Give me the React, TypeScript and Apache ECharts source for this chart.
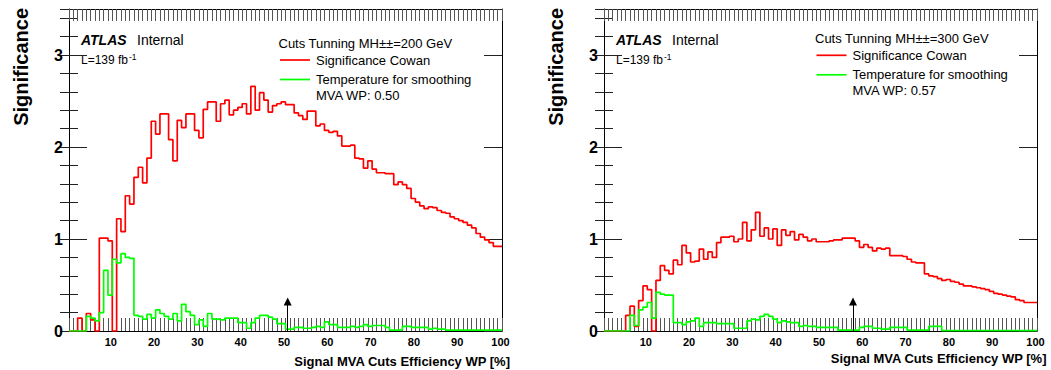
import React, { useEffect, useRef } from "react";
import * as echarts from "echarts";

// Bin contents, bins [k, k+1] for k = 0..99 (Signal MVA Cuts Efficiency WP [%])
const LEFT_RED = [
  0, 0, 0.14, 0, 0.19, 0.12, 0, 1.01, 1.01, 0.98,
  0, 1.22, 1.08, 1.47, 1.38, 1.67, 1.78, 1.61, 1.88, 2.28,
  2.14, 2.36, 2.36, 2.08, 1.85, 2.29, 2.21, 2.36, 2.36, 2.18,
  2.1, 2.41, 2.49, 2.49, 2.28, 2.47, 2.51, 2.35, 2.4, 2.43,
  2.47, 2.36, 2.66, 2.4, 2.59, 2.51, 2.38, 2.45, 2.47, 2.49,
  2.46, 2.46, 2.37, 2.34, 2.3, 2.39, 2.39, 2.23, 2.25, 2.18,
  2.16, 2.17, 2.12, 2.01, 2.01, 2.02, 1.88, 1.87, 1.77, 1.85,
  1.76, 1.72, 1.72, 1.71, 1.71, 1.59, 1.62, 1.59, 1.55, 1.44,
  1.4, 1.36, 1.33, 1.35, 1.34, 1.31, 1.29, 1.28, 1.24, 1.22,
  1.2, 1.18, 1.15, 1.12, 1.06, 1.02, 0.99, 0.96, 0.92, 0.92,
];
const LEFT_GREEN = [
  0, 0, 0, 0, 0.16, 0.14, 0.11, 0.2, 0.66, 0.39,
  0.78, 0.74, 0.84, 0.8, 0.79, 0.17, 0.16, 0.13, 0.18, 0.14,
  0.23, 0.19, 0.16, 0.13, 0.19, 0.11, 0.29, 0.21, 0.17, 0.07,
  0.12, 0.05, 0.19, 0.13, 0.13, 0.12, 0.14, 0.14, 0.14, 0.09,
  0.09, 0.03, 0.09, 0.14, 0.17, 0.17, 0.15, 0.13, 0.08, 0.08,
  0.02, 0.02, 0.04, 0.04, 0.03, 0.03, 0.04, 0.05, 0.04, 0.1,
  0.07, 0.07, 0.04, 0.04, 0.04, 0.05, 0.04, 0.05, 0.07, 0.05,
  0.06, 0.06, 0.06, 0.04, 0.01, 0.01, 0.01, 0.05, 0.05, 0.04,
  0.04, 0.04, 0.04, 0.02, 0.03, 0.02, 0.02, 0.01, 0.01, 0.01,
  0.01, 0.01, 0.01, 0.01, 0.01, 0.01, 0.01, 0.01, 0.01, 0.01,
];
const RIGHT_RED = [
  0, 0, 0, 0, 0, 0.17, 0.27, 0.05, 0.33, 0.49,
  0.45, 0, 0.55, 0.71, 0.66, 0.62, 0.77, 0.72, 0.93, 0.85,
  0.75, 0.76, 0.89, 0.78, 0.86, 0.8, 0.96, 1.02, 1.02, 1.03,
  0.97, 1.0, 1.18, 0.98, 1.1, 1.29, 1.03, 1.12, 1.0, 1.11,
  0.93, 1.1, 1.04, 1.08, 0.99, 1.05, 1.02, 0.98, 1.0, 0.97,
  0.97, 0.97, 0.98, 0.99, 0.99, 1.01, 1.01, 1.01, 0.98, 0.91,
  0.94, 0.91, 0.87, 0.9, 0.89, 0.9, 0.82, 0.82, 0.82, 0.81,
  0.78, 0.75, 0.74, 0.74, 0.62, 0.6, 0.59, 0.57, 0.55, 0.56,
  0.54, 0.53, 0.51, 0.49, 0.49, 0.48, 0.47, 0.46, 0.45, 0.43,
  0.41, 0.4, 0.39, 0.38, 0.37, 0.34, 0.33, 0.31, 0.31, 0.31,
];
const RIGHT_GREEN = [
  0, 0, 0, 0, 0, 0, 0.17, 0.06, 0.23, 0.26,
  0.31, 0.14, 0.42, 0.4, 0.39, 0.39, 0.09, 0.09, 0.07, 0.1,
  0.11, 0.14, 0.05, 0.09, 0.09, 0.09, 0.08, 0.08, 0.08, 0.08,
  0.03, 0.03, 0.03, 0.11, 0.13, 0.12, 0.16, 0.18, 0.16, 0.13,
  0.09, 0.11, 0.1, 0.09, 0.09, 0.05, 0.06, 0.05, 0.05, 0.04,
  0.04, 0.04, 0.04, 0.04, 0.01, 0.01, 0.01, 0.01, 0.01, 0.04,
  0.05, 0.05, 0.03, 0.03, 0.02, 0.02, 0.04, 0.04, 0.04, 0.04,
  0.01, 0.01, 0.01, 0.01, 0.01, 0.05, 0.05, 0.05, 0.005, 0.005,
  0.005, 0.005, 0.005, 0.005, 0.005, 0.005, 0.005, 0.005, 0.005, 0.005,
  0.005, 0.005, 0.005, 0.005, 0.005, 0.005, 0.005, 0.005, 0.005, 0.005,
];

const MASSES = ["200", "300"];
const MVA_WP = ["0.50", "0.57"];
const ARROW_X = [50.5, 57.5];
const ARROW_TOP = 0.32;
const X_RANGE = [0, 100];
const Y_RANGE = [0, 3.5];

const FONT = "'Liberation Sans', Arial, Helvetica, sans-serif";
const RED = "#ff0000";
const GREEN = "#00ff00";
const TICK = "#555";

function toSteps(vals: number[]) {
  const pts: number[][] = vals.map((v, i) => [X_RANGE[0] + i, v]);
  pts.push([X_RANGE[0] + vals.length, vals[vals.length - 1]]);
  return pts;
}

function xAxes(gridIndex: number) {
  const common = {
    type: "value",
    gridIndex,
    min: X_RANGE[0],
    max: X_RANGE[1],
    interval: 10,
    splitLine: { show: false },
    minorSplitLine: { show: false },
    axisLine: { show: true, onZero: false, lineStyle: { color: "#000", width: 1 } },
  };
  return [
    {
      ...common,
      position: "bottom",
      axisTick: { show: true, inside: true, length: 13, lineStyle: { color: TICK, width: 1 } },
      minorTick: { show: true, splitNumber: 10, length: 13, lineStyle: { color: TICK, width: 1 } },
      axisLabel: {
        show: true,
        margin: 5,
        padding: [0, 3, 0, 0],
        fontFamily: FONT,
        fontWeight: "bold",
        fontSize: 11,
        color: "#000",
        formatter: (v: number) => (v === 0 ? "" : String(v)),
      },
    },
    {
      ...common,
      position: "top",
      axisTick: { show: true, inside: true, length: 12, lineStyle: { color: TICK, width: 1 } },
      minorTick: { show: true, splitNumber: 10, length: 12, lineStyle: { color: TICK, width: 1 } },
      axisLabel: { show: false },
    },
  ];
}

function yAxes(gridIndex: number) {
  const common = {
    type: "value",
    gridIndex,
    min: Y_RANGE[0],
    max: Y_RANGE[1],
    splitLine: { show: false },
  };
  const major = { show: true, inside: true, length: 18, lineStyle: { color: "#222", width: 1 } };
  const minor = { show: true, inside: true, length: 9, lineStyle: { color: "#222", width: 1 } };
  return [
    {
      ...common,
      position: "left",
      interval: 1,
      axisLine: { show: true, onZero: false, lineStyle: { color: "#000", width: 1 } },
      axisTick: major,
      axisLabel: {
        show: true,
        margin: 6,
        fontFamily: FONT,
        fontWeight: "bold",
        fontSize: 16,
        color: "#000",
        formatter: (v: number) => (Number.isInteger(v) ? String(v) : ""),
      },
    },
    { ...common, position: "left", interval: 0.2, axisLine: { show: false }, axisTick: minor, axisLabel: { show: false } },
    {
      ...common,
      position: "right",
      interval: 1,
      axisLine: { show: true, onZero: false, lineStyle: { color: "#000", width: 1 } },
      axisTick: major,
      axisLabel: { show: false },
    },
    { ...common, position: "right", interval: 0.2, axisLine: { show: false }, axisTick: minor, axisLabel: { show: false } },
  ];
}

function histSeries(name: string, vals: number[], color: string, xi: number, yi: number, arrowX?: number) {
  const s: any = {
    type: "line",
    name,
    xAxisIndex: xi,
    yAxisIndex: yi,
    data: toSteps(vals),
    step: "end",
    symbol: "none",
    showSymbol: false,
    silent: true,
    lineStyle: { color, width: 1.7 },
    itemStyle: { color },
  };
  if (arrowX !== undefined) {
    s.markLine = {
      silent: true,
      symbol: ["none", "triangle"],
      symbolSize: 8,
      label: { show: false },
      lineStyle: { color: "#000", width: 1, type: "solid" },
      data: [[{ coord: [arrowX, 0] }, { coord: [arrowX, ARROW_TOP] }]],
    };
  }
  return s;
}

function txt(text: string, x: number, y: number, size: number, extra: any = {}) {
  return {
    type: "text",
    x,
    y,
    silent: true,
    rotation: extra.rotation || 0,
    style: {
      text,
      fill: "#000",
      fontFamily: FONT,
      fontSize: size,
      fontWeight: extra.weight || "normal",
      fontStyle: extra.style || "normal",
      align: extra.align || "left",
      verticalAlign: "middle",
    },
  };
}

function seg(x1: number, x2: number, y: number, color: string) {
  return { type: "line", silent: true, shape: { x1, y1: y, x2, y2: y }, style: { stroke: color, lineWidth: 1.7 } };
}

function panelGraphics(ox: number, dy: number, idx: number) {
  const lx = ox + 209.5 + (idx === 1 ? 1.5 : 0);
  return [
    txt("ATLAS", ox + 12, 40, 14, { weight: "bold", style: "italic" }),
    txt("Internal", ox + 68, 40, 14),
    txt("L=139 fb", ox + 12, 60, 12),
    txt("-1", ox + 60, 56.5, 8.5),
    txt("Cuts Tunning MH\u00b1\u00b1=" + MASSES[idx] + " GeV", lx, 43 - dy, 13),
    seg(lx + 1.5, lx + 31.5, 60 - dy, RED),
    txt("Significance Cowan", lx + 37.5, 60 - dy, 13),
    seg(lx + 1.5, lx + 31.5, 79.5 - dy, GREEN),
    txt("Temperature for smoothing", lx + 37.5, 79.5 - dy, 13),
    txt("MVA WP: " + MVA_WP[idx], lx + 37.5, 95.5 - dy, 13),
  ];
}

export default function App() {
  const ref = useRef<HTMLDivElement>(null);
  useEffect(() => {
    if (!ref.current) return;
    const chart = echarts.init(ref.current, null, { renderer: "svg" });
    const option: any = {
      animation: false,
      backgroundColor: "#fff",
      grid: [
        { left: 69, top: 9, width: 433, height: 322, containLabel: false, outerBoundsMode: "none" },
        { left: 604, top: 9, width: 433, height: 322, containLabel: false, outerBoundsMode: "none" },
      ],
      xAxis: [...xAxes(0), ...xAxes(1)],
      yAxis: [...yAxes(0), ...yAxes(1)],
      series: [
        histSeries("Significance Cowan", LEFT_RED, RED, 0, 0),
        histSeries("Temperature for smoothing", LEFT_GREEN, GREEN, 0, 0, ARROW_X[0]),
        histSeries("Significance Cowan", RIGHT_RED, RED, 2, 4),
        histSeries("Temperature for smoothing", RIGHT_GREEN, GREEN, 2, 4, ARROW_X[1]),
      ],
      graphic: {
        elements: [
          ...panelGraphics(69, 0, 0),
          ...panelGraphics(604, 4.7, 1),
          txt("Significance", 21, 8, 20, { weight: "bold", align: "right", rotation: Math.PI / 2 }),
          txt("Significance", 556, 8, 20, { weight: "bold", align: "right", rotation: Math.PI / 2 }),
          txt("Signal MVA Cuts Efficiency WP [%]", 510, 361, 13, { weight: "bold", align: "right" }),
          txt("Signal MVA Cuts Efficiency WP [%]", 1046.5, 358, 13, { weight: "bold", align: "right" }),
        ],
      },
    };
    chart.setOption(option);
    return () => chart.dispose();
  }, []);
  return (
    <div
      ref={ref}
      style={{ position: "absolute", left: 0, top: 0, width: "1051px", height: "370px", background: "#fff" }}
    />
  );
}
